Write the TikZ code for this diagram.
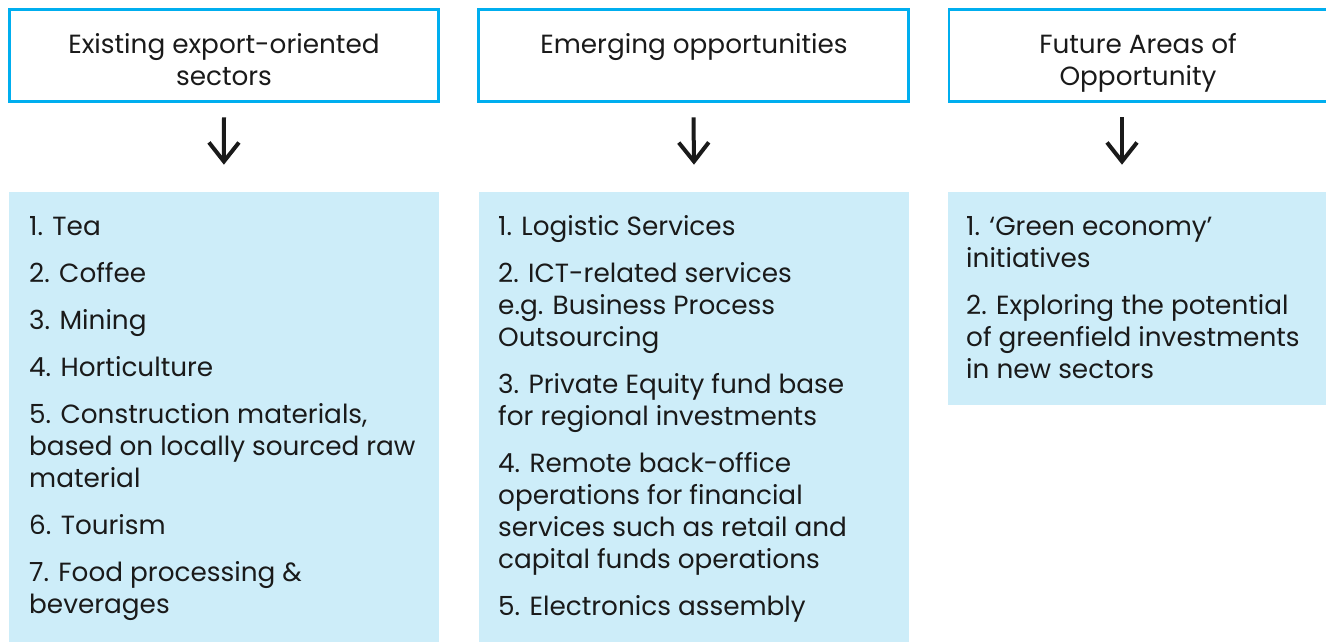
\documentclass[tikz,border=0pt]{standalone}
\usepackage{fontspec}
\setmainfont{Poppins}
\usetikzlibrary{arrows.meta}
\definecolor{hdrcyan}{HTML}{00AEEF}
\definecolor{bodyblue}{HTML}{CDEDF9}
\definecolor{ink}{HTML}{1A1A1A}
\begin{document}
\begin{tikzpicture}[x=1pt,y=1pt,
  hdrbox/.style={draw=hdrcyan,line width=2.7pt,inner sep=0pt,outer sep=0pt,anchor=north west},
  hdrlabel/.style={anchor=north,inner sep=0pt,align=center,text=ink,font=\fontsize{26.3}{32}\selectfont},
  bodybox/.style={fill=bodyblue,inner sep=0pt,outer sep=0pt,anchor=north west},
  itemtext/.style={anchor=north west,inner sep=0pt,align=left,text=ink,font=\fontsize{26.3}{32}\selectfont},
  flow/.style={line width=4pt,ink,-{Straight Barb[length=19pt,width=30pt]}}]
\useasboundingbox (0,0) rectangle (1326,-642);
% header boxes
\node[hdrbox,minimum width=428.6pt,minimum height=91.6pt] (h1) at (9.7,-9.7) {};
\node[hdrbox,minimum width=429.6pt,minimum height=91.6pt] (h2) at (478.7,-9.7) {};
\node[hdrbox,minimum width=384pt,minimum height=91.6pt] (h3) at (949,-9.7) {};
% header labels
\node[hdrlabel] (t1) at (224,-30.6) {\strut Existing export-oriented\\sectors};
\node[hdrlabel] (t2) at (694,-30.6) {\strut Emerging opportunities};
\node[hdrlabel] (t3) at (1138,-30.6) {\strut Future Areas of\\Opportunity};
% body boxes
\node[bodybox,minimum width=430.8pt,minimum height=450.3pt] (b1) at (8.5,-191.7) {};
\node[bodybox,minimum width=430pt,minimum height=450.3pt] (b2) at (479,-191.7) {};
\node[bodybox,minimum width=380pt,minimum height=213.3pt] (b3) at (948.3,-191.7) {};
% body texts
\node[itemtext] (l1) at (29,-212.6) {\strut 1. Tea\\[15pt]
2. Coffee\\[15pt]
3. Mining\\[15pt]
4. Horticulture\\[15pt]
5. Construction materials,\\based on locally sourced raw\\material\\[15pt]
6. Tourism\\[15pt]
7. Food processing \&\\beverages};
\node[itemtext] (l2) at (498,-212.6) {\strut 1. Logistic Services\\[15pt]
2. ICT-related services\\e.g. Business Process\\Outsourcing\\[15pt]
3. Private Equity fund base\\for regional investments\\[15pt]
4. Remote back-office\\operations for financial\\services such as retail and\\capital funds operations\\[15pt]
5. Electronics assembly};
\node[itemtext] (l3) at (966,-212.6) {\strut 1. ‘Green economy’\\initiatives\\[15pt]
2. Exploring the potential\\of greenfield investments\\in new sectors};
% arrows
\draw[flow] ([yshift=-16pt]h1.south) -- ([yshift=27pt]b1.north);
\draw[flow] ([yshift=-16pt]h2.south) -- ([yshift=27pt]b2.north);
\draw[flow] ([xshift=-19pt,yshift=-16pt]h3.south) -- ([xshift=-19pt,yshift=27pt]h3.south |- b3.north);
\end{tikzpicture}
\end{document}
